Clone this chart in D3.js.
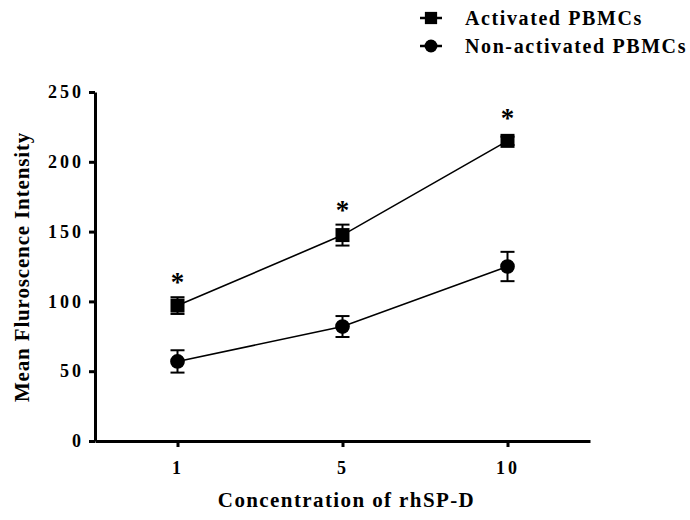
<!DOCTYPE html>
<html>
<head>
<meta charset="utf-8">
<script src="https://cdn.jsdelivr.net/npm/d3@7"></script>
<style>
  body { margin: 0; background: #fff; }
  text { font-family: "Liberation Serif", "Times New Roman", serif; font-weight: bold; fill: #000; }
</style>
</head>
<body>
<div id="chart"></div>
<script>
// data
var concentrations = ["1", "5", "10"];
var activatedMean = [97, 147.5, 215];
var activatedErr = [6, 7.5, 3];
var nonActivatedMean = [57, 82, 125];
var nonActivatedErr = [8, 7.5, 10.5];
var significant = [true, true, true];
var yTicks = [0, 50, 100, 150, 200, 250];

var svgWidth = 690;
var svgHeight = 520;

var margin = { top: 92, right: 100, bottom: 79, left: 95 };
var width = svgWidth - margin.left - margin.right;
var height = svgHeight - margin.top - margin.bottom;

var svg = d3.select("#chart")
  .append("svg")
  .attr("width", svgWidth)
  .attr("height", svgHeight);

var chartGroup = svg.append("g")
  .attr("transform", `translate(${margin.left}, ${margin.top})`);

var xScale = d3.scalePoint()
  .domain(concentrations)
  .range([0, width])
  .padding(0.5);

var yScale = d3.scaleLinear()
  .domain([0, 250])
  .range([height, 0]);

// axes
var xAxis = chartGroup.append("g")
  .attr("transform", `translate(0, ${height})`)
  .call(d3.axisBottom(xScale).tickSize(6).tickPadding(14).tickSizeOuter(0));

var yAxis = chartGroup.append("g")
  .call(d3.axisLeft(yScale).tickValues(yTicks).tickSize(6).tickPadding(5).tickSizeOuter(0));

[xAxis, yAxis].forEach(function(ax) {
  ax.select(".domain").attr("stroke", "#000").attr("stroke-width", 3);
  ax.selectAll(".tick line").attr("stroke", "#000").attr("stroke-width", 3);
  ax.selectAll(".tick text")
    .attr("font-size", "18px")
    .attr("letter-spacing", "3px")
    .attr("font-family", "Liberation Serif, serif")
    .attr("font-weight", "bold")
    .attr("fill", "#000");
});

// axis titles
chartGroup.append("text")
  .attr("x", width / 2 + 4)
  .attr("y", height + 66)
  .attr("text-anchor", "middle")
  .attr("font-size", "21px")
  .attr("letter-spacing", "1.4px")
  .text("Concentration of rhSP-D");

chartGroup.append("text")
  .attr("transform", "rotate(-90)")
  .attr("x", -(267 - margin.top))
  .attr("y", -66)
  .attr("text-anchor", "middle")
  .attr("font-size", "21px")
  .attr("letter-spacing", "0.85px")
  .text("Mean Fluroscence Intensity");

function makeSeries(means) {
  return concentrations.map(function(c, i) { return { c: c, v: means[i], i: i }; });
}

var activated = makeSeries(activatedMean);
var nonActivated = makeSeries(nonActivatedMean);

var line = d3.line()
  .x(d => xScale(d.c))
  .y(d => yScale(d.v));

function drawSeries(data, errs, shape) {
  chartGroup.append("path")
    .datum(data)
    .attr("d", line)
    .attr("fill", "none")
    .attr("stroke", "#000")
    .attr("stroke-width", 1.6);

  var err = chartGroup.append("g").selectAll("g")
    .data(data)
    .enter()
    .append("g");

  err.append("line")
    .attr("x1", d => xScale(d.c))
    .attr("x2", d => xScale(d.c))
    .attr("y1", d => yScale(d.v + errs[d.i]))
    .attr("y2", d => yScale(d.v - errs[d.i]))
    .attr("stroke", "#000")
    .attr("stroke-width", 2);

  [1, -1].forEach(function(sgn) {
    err.append("line")
      .attr("x1", d => xScale(d.c) - 7)
      .attr("x2", d => xScale(d.c) + 7)
      .attr("y1", d => yScale(d.v + sgn * errs[d.i]))
      .attr("y2", d => yScale(d.v + sgn * errs[d.i]))
      .attr("stroke", "#000")
      .attr("stroke-width", 2);
  });

  chartGroup.append("g").selectAll("path")
    .data(data)
    .enter()
    .append("path")
    .attr("d", d3.symbol().type(shape).size(shape === d3.symbolSquare ? 196 : 170))
    .attr("transform", d => `translate(${xScale(d.c)}, ${yScale(d.v)})`)
    .attr("fill", "#000");
}

drawSeries(activated, activatedErr, d3.symbolSquare);
drawSeries(nonActivated, nonActivatedErr, d3.symbolCircle);

// significance stars
chartGroup.append("g").selectAll("text")
  .data(activated.filter(d => significant[d.i]))
  .enter()
  .append("text")
  .attr("x", d => xScale(d.c))
  .attr("y", d => Math.min(yScale(d.v + activatedErr[d.i]), yScale(d.v) - 8) - 6)
  .attr("text-anchor", "middle")
  .attr("font-family", "Liberation Sans, Arial, sans-serif")
  .attr("font-weight", "normal")
  .attr("font-size", "27px")
  .text("*");

// legend
var legendItems = [
  { label: "Activated PBMCs", shape: d3.symbolSquare, size: 150 },
  { label: "Non-activated PBMCs", shape: d3.symbolCircle, size: 130 }
];

var legend = svg.append("g")
  .attr("transform", "translate(431, 18)");

var li = legend.selectAll("g")
  .data(legendItems)
  .enter()
  .append("g")
  .attr("transform", (d, i) => `translate(0, ${i * 28})`);

li.append("line")
  .attr("x1", -11).attr("x2", 11)
  .attr("y1", 0).attr("y2", 0)
  .attr("stroke", "#000")
  .attr("stroke-width", 2.5);

li.append("path")
  .attr("d", d => d3.symbol().type(d.shape).size(d.size)())
  .attr("fill", "#000");

li.append("text")
  .attr("x", 34)
  .attr("y", 7)
  .attr("font-size", "20px")
  .attr("letter-spacing", "1.6px")
  .text(d => d.label);
</script>
</body>
</html>
